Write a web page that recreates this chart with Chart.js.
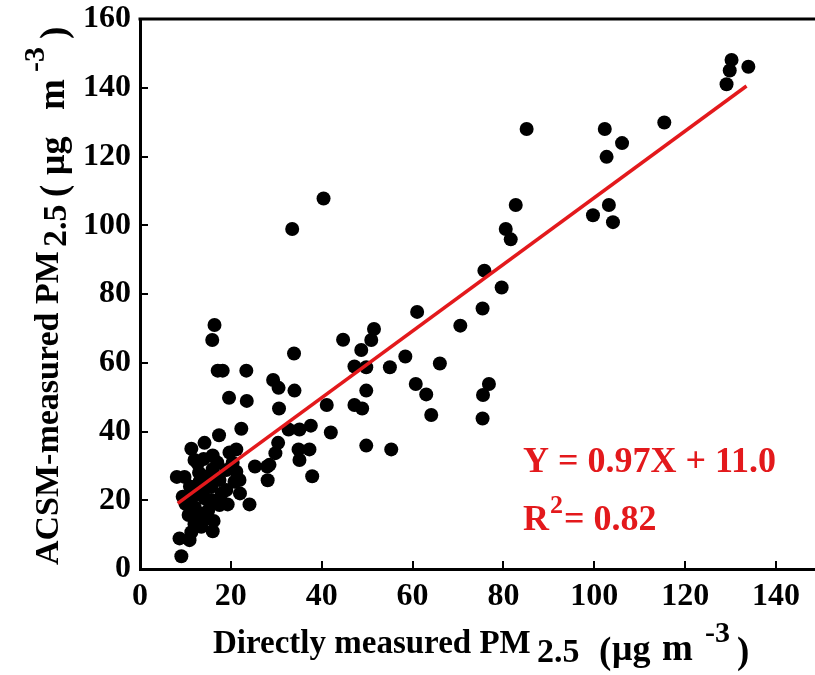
<!DOCTYPE html>
<html>
<head>
<meta charset="utf-8">
<script src="https://cdn.jsdelivr.net/npm/chart.js@4/dist/chart.umd.min.js"></script>
<style>
html,body{margin:0;padding:0;background:#fff;overflow:hidden;width:815px;height:675px}
#wrap{position:relative;width:830px;height:675px}
</style>
</head>
<body>
<div id="wrap"><canvas id="c"></canvas></div>
<script>
// ---- data ----
const xTickValues = [0, 20, 40, 60, 80, 100, 120, 140];
const yTickValues = [0, 20, 40, 60, 80, 100, 120, 140, 160];

// Directly measured PM2.5 (x) and ACSM-measured PM2.5 (y)
const directPM = [
  9.1, 8.7, 10.9, 11.3, 13.5, 16.2, 10.7, 13.1, 14.6, 9.4,
  12.0, 14.2, 15.7, 17.5, 19.3, 24.1, 8.1, 9.8, 13.1, 15.7,
  17.5, 19.0, 12.0, 12.7, 16.0, 11.3, 14.2, 17.4, 19.7, 21.2,
  22.3, 21.2, 21.9, 20.4, 20.8, 25.3, 28.0, 28.1, 19.6, 23.5,
  17.1, 18.2, 23.4, 15.9, 16.4,
  13.0, 15.0, 14.0, 16.0, 12.0, 15.0, 18.0, 11.0, 17.0, 14.0,
  10.0, 13.0, 19.0, 22.0, 16.0, 12.0,
  28.5, 29.8, 30.4, 32.7, 35.1, 37.6, 34.9, 37.3, 35.1, 37.9,
  29.3, 30.5, 30.6, 34.0, 33.9, 33.5, 40.4, 41.1, 42.0, 44.7,
  47.2, 49.8, 48.7, 50.9, 51.5, 55.0, 58.4, 49.8, 47.2, 48.9,
  49.8, 55.3, 60.7, 63.0, 64.1, 66.0, 61.0, 70.5, 75.4, 79.6,
  75.8, 75.5, 76.8, 75.4, 80.5, 81.6, 82.7, 85.1, 99.7, 103.2,
  104.1, 102.3, 102.7, 106.1, 115.4, 129.1, 129.8, 130.2, 133.9
];
const acsmPM = [
  3.7, 8.9, 8.4, 10.7, 12.3, 14.0, 15.7, 16.2, 14.7, 21.0,
  21.5, 20.6, 20.1, 18.6, 18.8, 18.8, 26.8, 26.8, 25.4, 23.9,
  25.9, 28.8, 31.7, 30.7, 33.0, 35.0, 36.7, 38.9, 33.9, 34.8,
  40.8, 28.3, 25.9, 30.9, 25.4, 29.8, 29.8, 25.8, 49.8, 48.9,
  57.7, 57.7, 57.7, 66.6, 71.0,
  28.0, 27.0, 23.0, 29.0, 18.0, 17.0, 22.0, 24.0, 31.0, 32.0,
  19.0, 14.0, 23.0, 22.0, 11.0, 13.0,
  30.3, 33.7, 36.7, 40.6, 40.6, 41.7, 34.8, 34.8, 31.7, 27.0,
  55.0, 52.7, 46.7, 51.9, 62.7, 98.9, 107.8, 47.7, 39.7, 66.7,
  58.9, 58.7, 63.7, 66.6, 69.8, 58.7, 61.8, 51.9, 47.7, 46.7,
  35.9, 34.8, 53.8, 50.8, 44.8, 59.8, 74.8, 70.8, 75.8, 81.9,
  86.8, 50.6, 53.8, 43.8, 98.9, 95.9, 105.9, 128.0, 102.9, 105.9,
  100.9, 128.0, 119.9, 123.9, 129.9, 141.0, 145.0, 148.1, 146.1
];

// regression line end points
const fitX = [8.3, 133.5];
const fitY = [19.1, 140.5];

const equationText = 'Y = 0.97X + 11.0';
const r2Value = '= 0.82';

// ---- chart ----
const FONT = '"Liberation Serif", "Times New Roman", serif';
const RED = '#e3191c';

const scatterData = directPM.map((x, i) => ({ x: x, y: acsmPM[i] }));
const fitData = fitX.map((x, i) => ({ x: x, y: fitY[i] }));

function drawPieces(ctx, pieces) {
  for (const p of pieces) {
    ctx.font = 'bold ' + p.s + 'px ' + FONT;
    ctx.fillText(p.t, p.x, p.y);
  }
}

const decorPlugin = {
  id: 'decor',
  afterDraw(chart) {
    const ctx = chart.ctx;
    const a = chart.chartArea;
    const xs = chart.scales.x, ys = chart.scales.y;
    ctx.save();
    // frame (top and right)
    ctx.strokeStyle = '#000';
    ctx.lineWidth = 3;
    ctx.beginPath();
    ctx.moveTo(a.left - 1.5, a.top);
    ctx.lineTo(a.right, a.top);
    ctx.lineTo(a.right, a.bottom);
    ctx.stroke();
    // inward tick marks
    ctx.lineWidth = 2;
    ctx.beginPath();
    for (const v of xTickValues) {
      if (v === 0) continue;
      const px = Math.round(xs.getPixelForValue(v));
      ctx.moveTo(px, a.bottom);
      ctx.lineTo(px, a.bottom - 8);
    }
    for (const v of yTickValues) {
      if (v === 0 || v === 160) continue;
      const py = Math.round(ys.getPixelForValue(v));
      ctx.moveTo(a.left, py);
      ctx.lineTo(a.left + 8, py);
    }
    ctx.stroke();

    ctx.fillStyle = '#000';
    ctx.textBaseline = 'alphabetic';
    ctx.textAlign = 'left';
    // x axis title
    drawPieces(ctx, [
      { t: 'Directly measured PM', s: 33, x: 213, y: 653 },
      { t: '2.5', s: 34, x: 537, y: 662 },
      { t: '(', s: 37, x: 599, y: 663 },
      { t: 'μg', s: 36, x: 612, y: 660 },
      { t: 'm', s: 37, x: 662, y: 660 },
      { t: '-3', s: 30, x: 705, y: 642 },
      { t: ')', s: 37, x: 737, y: 663 }
    ]);
    // y axis title (rotated)
    ctx.save();
    ctx.translate(58, 565);
    ctx.rotate(-Math.PI / 2);
    drawPieces(ctx, [
      { t: 'ACSM-measured PM', s: 34, x: 0, y: 0 },
      { t: '2.5', s: 34, x: 318, y: 8 },
      { t: '(', s: 37, x: 368, y: 8 },
      { t: 'μg', s: 36, x: 390, y: 6 },
      { t: 'm', s: 37, x: 455, y: 6 },
      { t: '-3', s: 30, x: 493, y: -14 },
      { t: ')', s: 37, x: 526, y: 8 }
    ]);
    ctx.restore();

    // equation annotation
    ctx.fillStyle = RED;
    drawPieces(ctx, [
      { t: equationText, s: 36, x: 523, y: 472 },
      { t: 'R', s: 36, x: 523, y: 530 },
      { t: '2', s: 26, x: 550, y: 513 },
      { t: r2Value, s: 36, x: 564, y: 530 }
    ]);
    ctx.restore();
  }
};

new Chart(document.getElementById('c'), {
  type: 'scatter',
  data: {
    datasets: [
      {
        type: 'line',
        label: 'fit',
        data: fitData,
        borderColor: RED,
        borderWidth: 3.5,
        pointRadius: 0,
        fill: false,
        order: 0
      },
      {
        label: 'PM2.5',
        data: scatterData,
        backgroundColor: '#000',
        borderColor: '#000',
        borderWidth: 0,
        pointRadius: 7,
        pointHoverRadius: 7,
        order: 1
      }
    ]
  },
  options: {
    responsive: true,
    maintainAspectRatio: false,
    animation: false,
    events: [],
    layout: { padding: { top: 0, right: 8.5, left: 0, bottom: 0 } },
    plugins: { legend: { display: false }, tooltip: { enabled: false } },
    scales: {
      x: {
        type: 'linear',
        min: 0, max: 150,
        afterFit(s) { s.height = 106; },
        afterBuildTicks(s) { s.ticks = xTickValues.map(v => ({ value: v })); },
        grid: { display: false, drawTicks: false },
        border: { display: true, width: 3, color: '#000' },
        ticks: {
          padding: 9,
          color: '#000',
          font: { family: FONT, size: 32, weight: 'bold' },
          maxRotation: 0,
          autoSkip: false
        }
      },
      y: {
        type: 'linear',
        min: 0, max: 160,
        afterFit(s) { s.width = 140; s.paddingTop = 19; },
        afterBuildTicks(s) { s.ticks = yTickValues.map(v => ({ value: v })); },
        grid: { display: false, drawTicks: false },
        border: { display: true, width: 3, color: '#000' },
        ticks: {
          padding: 9,
          color: '#000',
          font: { family: FONT, size: 32, weight: 'bold' },
          autoSkip: false
        }
      }
    }
  },
  plugins: [decorPlugin]
});
</script>
</body>
</html>
